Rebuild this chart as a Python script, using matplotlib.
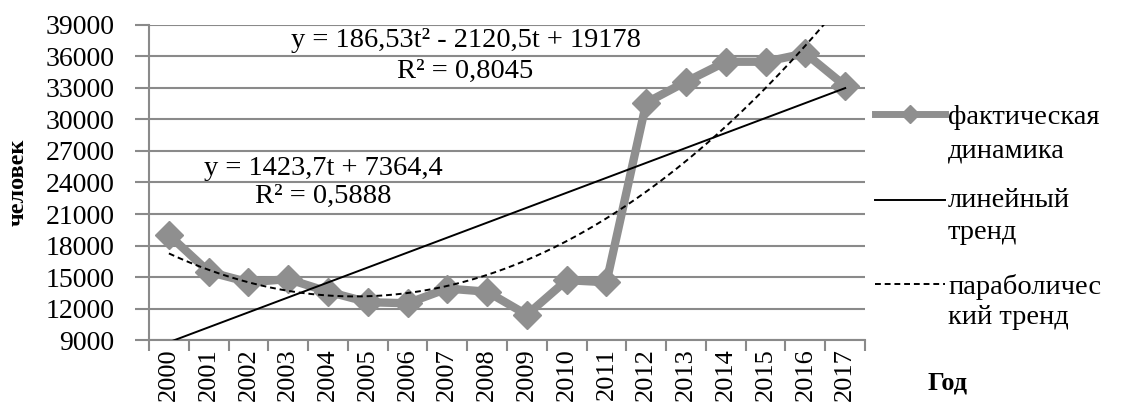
import matplotlib.pyplot as plt
import numpy as np
from matplotlib.lines import Line2D

plt.rcParams['font.family'] = ['Liberation Serif', 'DejaVu Serif']

# data
years = ['2000', '2001', '2002', '2003', '2004', '2005', '2006', '2007', '2008',
         '2009', '2010', '2011', '2012', '2013', '2014', '2015', '2016', '2017']
actual = [19000, 15500, 14500, 14800, 13600, 12600, 12500, 13900, 13600,
          11400, 14700, 14500, 31600, 33600, 35500, 35500, 36300, 33200]
lin_coef = [1423.7, 7364.4]
par_coef = [186.53, -2120.5, 19178]

yticks = [9000, 12000, 15000, 18000, 21000, 24000, 27000, 30000, 33000, 36000, 39000]

t = np.arange(1, len(years) + 1)
x = np.arange(len(years))
t_fine = np.linspace(1, len(years), 400)
x_fine = t_fine - 1

fig = plt.figure(figsize=(11.22, 4.07), dpi=100)
ax = fig.add_axes([0.1328, 0.1646, 0.771 - 0.1328, 0.9386 - 0.1646])

grid_c = '#8a8a8a'
ser_c = '#8f8f8f'

ax.plot(x, actual, color=ser_c, linewidth=6, marker='D', markersize=14,
        markerfacecolor=ser_c, markeredgecolor=ser_c, zorder=3)
ax.plot(x_fine, np.polyval(lin_coef, t_fine), color='black', linewidth=1.4, zorder=4)
ax.plot(x_fine, np.polyval(par_coef, t_fine), color='black', linewidth=1.4,
        linestyle=(0, (3, 2)), zorder=4)

ax.set_xlim(-0.5, len(years) - 0.5)
ax.set_ylim(9000, 39000)
ax.set_yticks(yticks)
ax.set_yticklabels([str(v) for v in yticks], fontsize=20)
ax.set_xticks(x)
ax.set_xticklabels(years, rotation=90, fontsize=19)
ax.set_xticks(np.arange(-0.5, len(years)), minor=True)
ax.tick_params(axis='x', which='major', length=0, pad=6)
ax.tick_params(axis='x', which='minor', length=8, width=1.5, color=grid_c, direction='out')
ax.tick_params(axis='y', length=10, width=1.5, color=grid_c, direction='out', pad=15)

ax.grid(True, axis='y', color=grid_c, linewidth=1.5)
ax.set_axisbelow(True)
for s in ['top', 'right']:
    ax.spines[s].set_visible(False)
ax.spines['left'].set_color(grid_c)
ax.spines['left'].set_linewidth(1.5)
ax.spines['bottom'].set_color(grid_c)
ax.spines['bottom'].set_linewidth(1.5)

# trend equations
ax.text(0.442, 0.95, 'y = 186,53t² - 2120,5t + 19178', transform=ax.transAxes,
        ha='center', va='center', fontsize=20.5)
ax.text(0.442, 0.853, 'R² = 0,8045', transform=ax.transAxes,
        ha='center', va='center', fontsize=20.5)
ax.text(0.244, 0.545, 'y = 1423,7t + 7364,4', transform=ax.transAxes,
        ha='center', va='center', fontsize=20.5)
ax.text(0.244, 0.455, 'R² = 0,5888', transform=ax.transAxes,
        ha='center', va='center', fontsize=20.5)

fig.text(18 / 1122, 1 - 182 / 407, 'человек', rotation=90, ha='center', va='center',
         fontsize=17.5, fontweight='bold')
fig.text(948 / 1122, 1 - 383 / 407, 'Год', ha='center', va='center',
         fontsize=19, fontweight='bold')

# legend drawn at the right side
def fx(px):
    return px / 1122

def fy(py):
    return 1 - py / 407

fig.add_artist(Line2D([fx(875), fx(945)], [fy(114), fy(114)], color=ser_c, linewidth=5))
fig.add_artist(Line2D([fx(910)], [fy(114)], color=ser_c, marker='D', markersize=9))
fig.add_artist(Line2D([fx(875), fx(945)], [fy(200), fy(200)], color='black', linewidth=1.4))
fig.add_artist(Line2D([fx(875), fx(945)], [fy(284), fy(284)], color='black', linewidth=1.4,
                      linestyle=(0, (3, 2))))

legend_lines = [(118, 'фактическая'), (151, 'динамика'), (201, 'линейный'),
                (232, 'тренд'), (287, 'параболичес'), (318, 'кий тренд')]
for py, txt in legend_lines:
    fig.text(fx(948), fy(py), txt, ha='left', va='center', fontsize=20.5)

plt.savefig('out.png', dpi=100)
